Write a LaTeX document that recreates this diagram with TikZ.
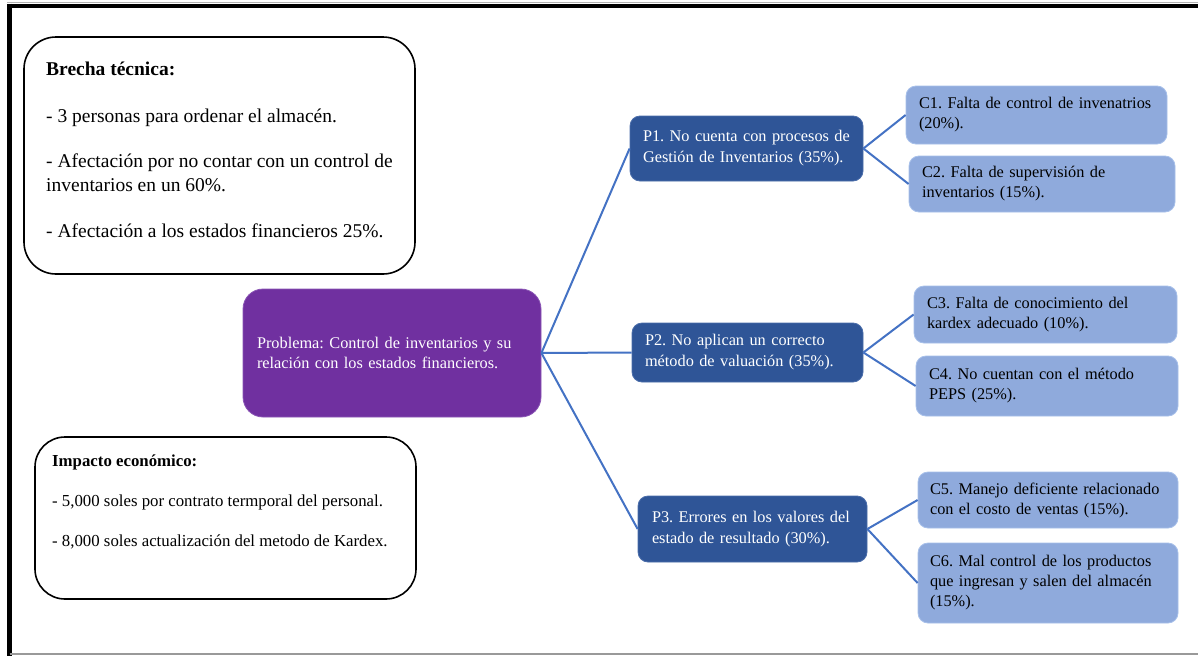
\documentclass[tikz,border=0pt]{standalone}
\usepackage{fontspec}
\setmainfont{Liberation Serif}
\frenchspacing
\definecolor{probpurple}{HTML}{7030A0}
\definecolor{probedge}{HTML}{8A55B5}
\definecolor{pblue}{HTML}{2F5597}
\definecolor{pedge}{HTML}{4A6DAA}
\definecolor{cblue}{HTML}{8FAADC}
\definecolor{cedge}{HTML}{A7C0EA}
\definecolor{connblue}{HTML}{4472C4}
\newcommand\oneline[1]{\mbox{#1}}
\begin{document}
\begin{tikzpicture}[x=1pt,y=-1pt,
  leftbox/.style={draw=black, line width=1.6pt, rounded corners=32pt, fill=white, inner sep=0pt},
  lefttext/.style={anchor=north west, align=left, inner sep=0pt},
  boxbase/.style={align=left, inner ysep=0pt, line width=0.8pt},
  probbox/.style={boxbase, fill=probpurple, draw=probedge, rounded corners=20pt, text=white, font=\fontsize{16.3}{20.5}\selectfont},
  pbox/.style={boxbase, fill=pblue, draw=pedge, rounded corners=10pt, text=white, font=\fontsize{16.3}{21}\selectfont},
  cbox/.style={boxbase, fill=cblue, draw=cedge, rounded corners=10pt, text=black, font=\fontsize{16.3}{20}\selectfont},
  conn/.style={draw=connblue, line width=2pt}]
\useasboundingbox (0,0) rectangle (1198,656);
\fill[white] (0,0) rectangle (1198,656);
% frame
\draw[gray!60, line width=1pt] (7,2.5) -- (1198,2.5);
\draw[black, line width=4pt] (7,5.5) -- (1198,5.5);
\draw[black, line width=4.5pt] (9.5,3.5) -- (9.5,656);
\draw[gray!80, line width=1.5pt] (9.5,654) -- (1198,654);

% left boxes
\node[leftbox, minimum width=391pt, minimum height=237pt] (brecha) at (219.5,155.5) {};
\node[lefttext, font=\fontsize{19.5}{23.5}\selectfont] (brechatxt) at (46,62)
  {\textbf{Brecha técnica:}\\[23pt]
   - 3 personas para ordenar el almacén.\\[22pt]
   - Afectación por no contar con un control de\\
   inventarios en un 60\%.\\[23pt]
   - Afectación a los estados financieros 25\%.};

\node[leftbox, rounded corners=30pt, minimum width=381pt, minimum height=162pt] (impacto) at (225.5,518) {};
\node[lefttext, font=\fontsize{16.8}{20}\selectfont] (impactotxt) at (52,455)
  {\textbf{Impacto económico:}\\[20pt]
   - 5,000 soles por contrato termporal del personal.\\[20pt]
   - 8,000 soles actualización del metodo de Kardex.};

% central problem
\node[probbox, minimum width=298pt, minimum height=128pt, inner xsep=14pt, text width=270pt] (prob) at (392,353)
  {\oneline{Problema: Control de inventarios y su}\\\oneline{relación con los estados financieros.}};

% P boxes
\node[pbox, minimum width=233pt, minimum height=65pt, inner xsep=13pt, text width=207pt] (p1) at (746.5,148.5)
  {\oneline{P1. No cuenta con procesos de}\\\oneline{Gestión de Inventarios (35\%).}};
\node[pbox, minimum width=231pt, minimum height=59pt, inner xsep=13pt, text width=205pt] (p2) at (747.5,352.5)
  {\oneline{P2. No aplican un correcto}\\\oneline{método de valuación (35\%).}};
\node[pbox, minimum width=229pt, minimum height=66pt, inner xsep=14pt, text width=201pt] (p3) at (752.5,529)
  {\oneline{P3. Errores en los valores del}\\\oneline{estado de resultado (30\%).}};

% C boxes
\node[cbox, minimum width=261pt, minimum height=58pt, inner xsep=13pt, text width=235pt] (c1) at (1036.5,115)
  {\oneline{C1. Falta de control de invenatrios}\\\oneline{(20\%).}};
\node[cbox, minimum width=266pt, minimum height=56pt, inner xsep=13pt, text width=240pt] (c2) at (1042,184)
  {\oneline{C2. Falta de supervisión de}\\\oneline{inventarios (15\%).}};
\node[cbox, minimum width=263pt, minimum height=57pt, inner xsep=13pt, text width=237pt] (c3) at (1045.5,314.5)
  {\oneline{C3. Falta de conocimiento del}\\\oneline{kardex adecuado (10\%).}};
\node[cbox, minimum width=262pt, minimum height=60pt, inner xsep=13pt, text width=236pt] (c4) at (1047,386)
  {\oneline{C4. No cuentan con el método}\\\oneline{PEPS (25\%).}};
\node[cbox, minimum width=260pt, minimum height=56pt, inner xsep=12pt, text width=236pt] (c5) at (1048,500)
  {\oneline{C5. Manejo deficiente relacionado}\\\oneline{con el costo de ventas (15\%).}};
\node[cbox, minimum width=260pt, minimum height=80pt, inner xsep=12pt, text width=236pt] (c6) at (1048,583)
  {\oneline{C6. Mal control de los productos}\\\oneline{que ingresan y salen del almacén}\\\oneline{(15\%).}};

% connectors
\draw[conn] (prob.east) -- (p1.west);
\draw[conn] (prob.east) -- (p2.west);
\draw[conn] (prob.east) -- (p3.west);
\draw[conn] (p1.east) -- (c1.west);
\draw[conn] (p1.east) -- (c2.west);
\draw[conn] (p2.east) -- (c3.west);
\draw[conn] (p2.east) -- (c4.west);
\draw[conn] (p3.east) -- (c5.west);
\draw[conn] (p3.east) -- (c6.west);
\end{tikzpicture}
\end{document}
